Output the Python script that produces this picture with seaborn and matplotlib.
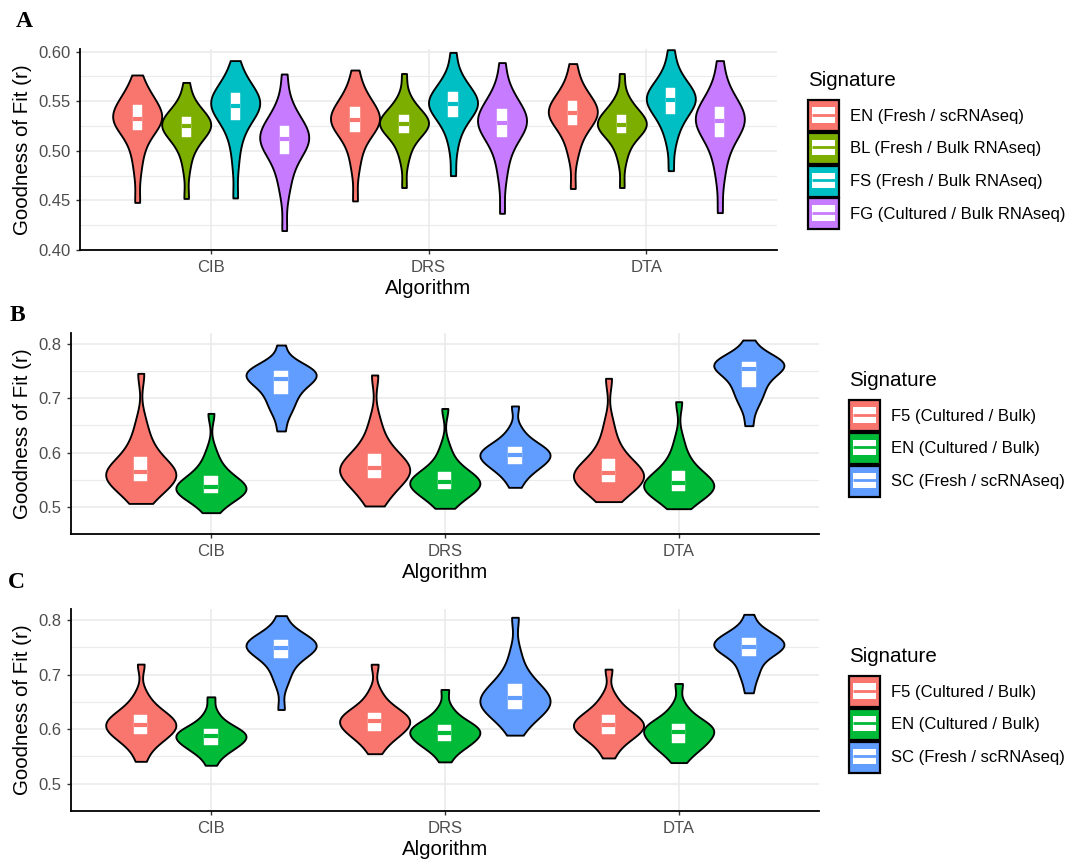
import numpy as np
import pandas as pd
import matplotlib
matplotlib.use("Agg")
import matplotlib.pyplot as plt
import seaborn as sns
from matplotlib.patches import Rectangle, Patch
from matplotlib.lines import Line2D
from matplotlib.legend_handler import HandlerBase
from matplotlib.ticker import MultipleLocator, FormatStrFormatter

plt.rcParams["font.family"] = ["Liberation Sans", "DejaVu Sans"]

# ---------------- categories ----------------
algorithms = ["CIB", "DRS", "DTA"]

sig_a = ["EN (Fresh / scRNAseq)", "BL (Fresh / Bulk RNAseq)",
         "FS (Fresh / Bulk RNAseq)", "FG (Cultured / Bulk RNAseq)"]
colors_a = ["#F8766D", "#7CAE00", "#00BFC4", "#C77CFF"]

sig_bc = ["F5 (Cultured / Bulk)", "EN (Cultured / Bulk)", "SC (Fresh / scRNAseq)"]
colors_bc = ["#F8766D", "#00BA38", "#619CFF"]

# ---------------- panel A values (5% quantile steps) ----------------
a_cib_en = [.448, .478, .495, .505, .513, .521, .524, .526, .528, .530, .532, .535, .537, .540, .543, .546, .549, .553, .558, .564, .5765]
a_cib_bl = [.452, .480, .495, .503, .509, .514, .517, .519, .521, .523, .525, .527, .529, .531, .532, .534, .537, .541, .546, .553, .569]
a_cib_fs = [.4525, .485, .505, .516, .525, .531, .535, .539, .542, .544, .545, .548, .550, .552, .555, .558, .561, .565, .570, .577, .591]
a_cib_fg = [.4196, .455, .470, .480, .489, .4965, .501, .504, .507, .509, .5115, .514, .516, .519, .522, .525, .529, .534, .541, .552, .5775]
a_drs_en = [.4495, .480, .495, .505, .513, .519, .522, .525, .527, .529, .531, .533, .536, .538, .541, .544, .548, .552, .558, .566, .5815]
a_drs_bl = [.463, .488, .500, .507, .513, .518, .520, .522, .524, .526, .527, .529, .530, .532, .534, .536, .539, .543, .548, .556, .578]
a_drs_fs = [.475, .500, .515, .523, .529, .5345, .538, .541, .543, .545, .547, .549, .551, .553, .556, .5593, .562, .566, .572, .580, .5993]
a_drs_fg = [.437, .470, .487, .498, .507, .514, .518, .521, .524, .526, .5284, .531, .533, .536, .539, .542, .546, .551, .557, .567, .589]
a_dta_en = [.462, .492, .505, .513, .520, .526, .529, .532, .534, .536, .538, .540, .542, .545, .548, .5506, .554, .558, .564, .573, .588]
a_dta_bl = [.463, .488, .500, .507, .513, .518, .520, .522, .523, .525, .526, .528, .530, .532, .534, .536, .539, .543, .548, .556, .578]
a_dta_fs = [.480, .505, .518, .526, .532, .537, .541, .544, .547, .549, .551, .553, .555, .557, .560, .563, .566, .570, .576, .585, .602]
a_dta_fg = [.4377, .470, .487, .498, .507, .514, .518, .522, .525, .528, .530, .532, .535, .538, .541, .544, .548, .553, .560, .570, .591]

# ---------------- panel B values ----------------
b_cib_f5 = [.5067, .520, .529, .536, .543, .5485, .552, .555, .558, .561, .5644, .568, .572, .577, .584, .5925, .603, .616, .633, .660, .7455]
b_cib_en = [.4897, .504, .512, .517, .522, .5264, .528, .530, .532, .535, .537, .540, .543, .547, .552, .557, .564, .573, .585, .605, .672]
b_cib_sc = [.6397, .668, .680, .690, .699, .7076, .715, .722, .728, .732, .735, .738, .741, .744, .747, .7504, .753, .756, .760, .767, .7975]
b_drs_f5 = [.502, .518, .528, .537, .546, .5528, .557, .561, .564, .567, .571, .575, .579, .584, .590, .5968, .606, .618, .635, .662, .7425]
b_drs_en = [.4977, .510, .517, .523, .528, .5326, .535, .538, .541, .544, .5466, .549, .552, .555, .559, .5637, .570, .579, .591, .612, .681]
b_drs_sc = [.5362, .553, .562, .569, .574, .5785, .582, .586, .589, .592, .5956, .598, .601, .604, .607, .6103, .615, .621, .630, .645, .6856]
b_dta_f5 = [.510, .522, .530, .536, .542, .5466, .550, .553, .556, .559, .562, .566, .570, .575, .581, .5882, .598, .611, .628, .656, .7364]
b_dta_en = [.497, .509, .516, .521, .526, .530, .533, .536, .538, .541, .5436, .547, .551, .555, .560, .5668, .575, .586, .600, .625, .6935]
b_dta_sc = [.6494, .680, .694, .704, .713, .7204, .729, .737, .744, .749, .753, .756, .759, .761, .764, .7663, .769, .772, .776, .783, .8067]

# ---------------- panel C values ----------------
c_cib_f5 = [.541, .563, .573, .580, .586, .5907, .595, .598, .601, .604, .6084, .612, .615, .618, .622, .6256, .631, .638, .648, .665, .7192]
c_cib_en = [.5338, .551, .558, .563, .568, .5717, .575, .578, .581, .584, .587, .589, .592, .594, .597, .600, .604, .610, .618, .632, .6592]
c_cib_sc = [.636, .680, .697, .709, .720, .7296, .735, .740, .743, .746, .749, .752, .755, .757, .760, .7627, .766, .770, .776, .785, .808]
c_drs_f5 = [.555, .572, .580, .587, .592, .5968, .600, .604, .607, .611, .6146, .618, .621, .624, .627, .630, .636, .643, .653, .670, .719]
c_drs_en = [.540, .557, .564, .569, .574, .5778, .581, .585, .588, .591, .5938, .597, .600, .603, .605, .6085, .613, .619, .627, .641, .6727]
c_drs_sc = [.589, .609, .619, .626, .632, .6378, .641, .644, .648, .652, .6562, .661, .666, .671, .676, .6819, .690, .702, .718, .745, .805]
c_dta_f5 = [.5472, .566, .575, .582, .587, .5919, .596, .599, .602, .605, .6084, .611, .614, .618, .622, .6256, .631, .638, .648, .663, .710]
c_dta_en = [.5387, .554, .561, .566, .571, .5754, .580, .584, .588, .591, .595, .598, .601, .604, .607, .6103, .615, .621, .630, .645, .6837]
c_dta_sc = [.6666, .690, .703, .713, .724, .7339, .739, .743, .746, .748, .751, .754, .757, .760, .763, .7663, .769, .773, .779, .788, .8104]


def build_frame(sigs, groups):
    rows = []
    for alg, lists in zip(algorithms, groups):
        for sig, vals in zip(sigs, lists):
            for v in vals:
                rows.append({"Algorithm": alg, "Signature": sig, "r": v})
    return pd.DataFrame(rows)


df_a = build_frame(sig_a, [[a_cib_en, a_cib_bl, a_cib_fs, a_cib_fg],
                           [a_drs_en, a_drs_bl, a_drs_fs, a_drs_fg],
                           [a_dta_en, a_dta_bl, a_dta_fs, a_dta_fg]])
df_b = build_frame(sig_bc, [[b_cib_f5, b_cib_en, b_cib_sc],
                            [b_drs_f5, b_drs_en, b_drs_sc],
                            [b_dta_f5, b_dta_en, b_dta_sc]])
df_c = build_frame(sig_bc, [[c_cib_f5, c_cib_en, c_cib_sc],
                            [c_drs_f5, c_drs_en, c_drs_sc],
                            [c_dta_f5, c_dta_en, c_dta_sc]])


class BoxKeyHandler(HandlerBase):
    def create_artists(self, legend, orig_handle, xdescent, ydescent,
                       width, height, fontsize, trans):
        c = orig_handle.get_facecolor()
        x0, y0 = -xdescent, -ydescent
        bg = Rectangle((x0, y0), width, height, facecolor=c,
                       edgecolor="black", lw=1.6, transform=trans)
        wb = Rectangle((x0 + 0.13 * width, y0 + 0.28 * height),
                       0.74 * width, 0.49 * height, facecolor="white",
                       edgecolor="none", transform=trans)
        md = Line2D([x0 + 0.13 * width, x0 + 0.87 * width],
                    [y0 + 0.53 * height] * 2, color=c, lw=2.0,
                    solid_capstyle="butt", transform=trans)
        return [bg, wb, md]


def draw_panel(ax, df, sigs, colors, ylim, major, minor, fmt):
    pal = dict(zip(sigs, colors))
    sns.violinplot(data=df, x="Algorithm", y="r", hue="Signature",
                   order=algorithms, hue_order=sigs, palette=pal,
                   density_norm="width", cut=0, inner=None, width=0.9,
                   linewidth=1.35, linecolor="black", saturation=1,
                   bw_adjust=0.8, gridsize=300, legend=False, ax=ax)
    n0 = len(ax.lines)
    sns.boxplot(data=df, x="Algorithm", y="r", hue="Signature",
                order=algorithms, hue_order=sigs,
                palette={s: "white" for s in sigs}, width=0.9, gap=0.81,
                whis=0, showfliers=False, showcaps=False, linewidth=0.3,
                linecolor="white", saturation=1, legend=False,
                whiskerprops={"linewidth": 0}, ax=ax)
    meds = []
    for ln in ax.lines[n0:]:
        xd, yd = np.asarray(ln.get_xdata(), float), np.asarray(ln.get_ydata(), float)
        if len(xd) == 2 and np.isclose(yd[0], yd[1]) and not np.isclose(xd[0], xd[1]):
            meds.append(ln)
    meds.sort(key=lambda l: np.mean(l.get_xdata()))
    for i, ln in enumerate(meds):
        ln.set_color(colors[i % len(colors)])
        ln.set_linewidth(3.0)
        ln.set_solid_capstyle("butt")

    ax.set_xlim(-0.6, 2.6)
    ax.set_ylim(*ylim)
    ax.yaxis.set_major_locator(MultipleLocator(major))
    ax.yaxis.set_minor_locator(MultipleLocator(minor))
    ax.yaxis.set_major_formatter(FormatStrFormatter(fmt))
    ax.set_axisbelow(True)
    ax.grid(True, which="major", axis="both", color="#EBEBEB", lw=1.2)
    ax.grid(True, which="minor", axis="y", color="#EBEBEB", lw=0.8)
    for s in ["top", "right"]:
        ax.spines[s].set_visible(False)
    for s in ["left", "bottom"]:
        ax.spines[s].set_linewidth(1.3)
        ax.spines[s].set_color("black")
    ax.tick_params(which="major", length=3, width=1.0, color="#333333",
                   labelsize=12, labelcolor="#4D4D4D", pad=4)
    ax.tick_params(which="minor", length=0)
    ax.set_xlabel("Algorithm", fontsize=14.8, color="black", labelpad=3)
    ax.set_ylabel("Goodness of Fit (r)", fontsize=14.8, color="black", labelpad=4)


W, H = 1071, 860
fig = plt.figure(figsize=(W / 100, H / 100), dpi=100)


def add_axes_px(left, top, right, bottom):
    return fig.add_axes([left / W, 1 - bottom / H, (right - left) / W, (bottom - top) / H])


ax_a = add_axes_px(80, 49.3, 777, 250)
ax_b = add_axes_px(70.6, 333.3, 819, 534.3)
ax_c = add_axes_px(70.6, 609.3, 819, 811)

draw_panel(ax_a, df_a, sig_a, colors_a, (0.40, 0.6024), 0.05, 0.025, "%.2f")
draw_panel(ax_b, df_b, sig_bc, colors_bc, (0.45, 0.819), 0.1, 0.05, "%.1f")
draw_panel(ax_c, df_c, sig_bc, colors_bc, (0.45, 0.8196), 0.1, 0.05, "%.1f")


def add_legend(sigs, colors, x, y):
    handles = [Patch(facecolor=c, label=s) for s, c in zip(sigs, colors)]
    leg = fig.legend(handles=handles, labels=sigs, loc="upper left",
                     bbox_to_anchor=(x / W, 1 - y / H), frameon=False,
                     title="Signature", title_fontsize=14.8, fontsize=12,
                     alignment="left", borderpad=0, borderaxespad=0,
                     handlelength=1.86, handleheight=2.485, labelspacing=0.1,
                     handletextpad=0.66,
                     handler_map={Patch: BoxKeyHandler()})
    leg._legend_box.sep = 7
    return leg


add_legend(sig_a, colors_a, 808, 71.5)
add_legend(sig_bc, colors_bc, 849, 371.5)
add_legend(sig_bc, colors_bc, 849, 647.5)

for lab, x, y in [("A", 16, 27.3), ("B", 9.5, 320.7), ("C", 7.5, 587.7)]:
    fig.text(x / W, 1 - y / H, lab, fontsize=17, fontweight="bold",
             family=["Liberation Serif", "DejaVu Serif"], va="baseline", ha="left")

fig.savefig("out.png", dpi=100)
